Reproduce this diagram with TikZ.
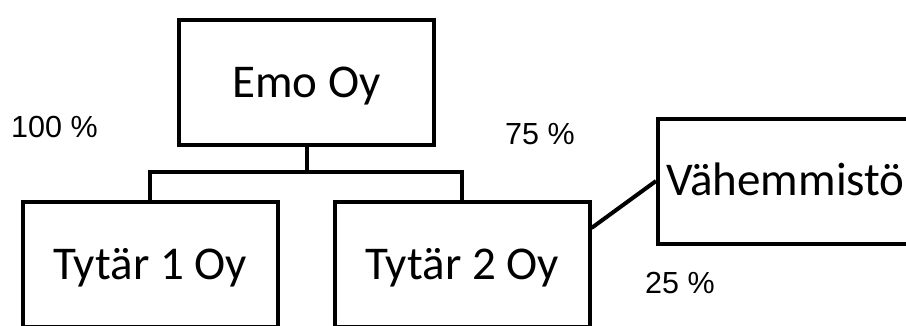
\documentclass[tikz,border=0pt]{standalone}
\usepackage{fontspec}
\setmainfont{Carlito}
\newfontfamily\pctfont{Liberation Sans}
\begin{document}
\begin{tikzpicture}[x=1pt,y=-1pt,
  box/.style={draw=black,line width=4pt,rectangle,minimum width=255pt,minimum height=125pt,inner sep=0pt,text height=29.7pt,text depth=0pt,font=\fontsize{47}{51}\selectfont},
  conn/.style={draw=black,line width=4pt},
  pct/.style={inner sep=0pt,anchor=base west,font=\pctfont\fontsize{30.5}{33}\selectfont}]
\useasboundingbox[clip] (0,0) rectangle (906,325);
\fill[white] (0,0) rectangle (906,325);
\node[box] (emo) at (306.5,82.5) {Emo Oy};
\node[box] (t1) at (150,264.5) {Tytär 1 Oy};
\node[box] (t2) at (462,264.5) {Tytär 2 Oy};
\node[box] (v) at (785.5,181) {Vähemmistö};
\coordinate (bus) at (306.5,172);
\draw[conn] (emo.south) -- (bus);
\draw[conn] (bus) -| (t1.north);
\draw[conn] (bus) -| (t2.north);
\draw[conn] ([yshift=36.5pt]t2.east) -- (v.west);
\node[pct] (p100) at (11,137) {100 \%};
\node[pct] (p75) at (505,144) {75 \%};
\node[pct] (p25) at (645,293) {25 \%};
\end{tikzpicture}
\end{document}
